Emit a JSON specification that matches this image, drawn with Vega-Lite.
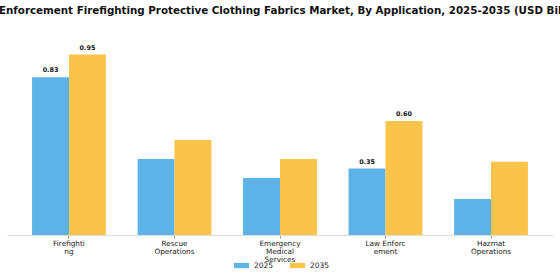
{
  "$schema": "https://vega.github.io/schema/vega-lite/v6.json",
  "autosize": "none",
  "width": 546,
  "height": 190,
  "padding": {"left": 7, "right": 7, "top": 45, "bottom": 45},
  "background": "white",
  "title": {
    "text": "Law Enforcement Firefighting Protective Clothing Fabrics Market, By Application, 2025-2035 (USD Billion)",
    "font": "DejaVu Sans",
    "fontSize": 10.3,
    "fontWeight": "bold",
    "color": "#111111",
    "anchor": "middle",
    "offset": 28
  },
  "data": {
    "values": [
      {"app": "Firefighting", "year": "2025", "value": 0.83},
      {"app": "Firefighting", "year": "2035", "value": 0.95},
      {"app": "Rescue Operations", "year": "2025", "value": 0.40},
      {"app": "Rescue Operations", "year": "2035", "value": 0.50},
      {"app": "Emergency Medical Services", "year": "2025", "value": 0.30},
      {"app": "Emergency Medical Services", "year": "2035", "value": 0.40},
      {"app": "Law Enforcement", "year": "2025", "value": 0.35},
      {"app": "Law Enforcement", "year": "2035", "value": 0.60},
      {"app": "Hazmat Operations", "year": "2025", "value": 0.19},
      {"app": "Hazmat Operations", "year": "2035", "value": 0.385}
    ]
  },
  "encoding": {
    "x": {
      "field": "app",
      "type": "nominal",
      "sort": null,
      "scale": {"paddingInner": 0.3, "paddingOuter": 0.2375},
      "axis": {
        "title": null,
        "labelAngle": 0,
        "labelFont": "DejaVu Sans",
        "labelFontSize": 7.3,
        "labelColor": "#222222",
        "labelLineHeight": 8,
        "labelPadding": 1,
        "tickSize": 3,
        "tickColor": "#999999",
        "domainColor": "#dddddd",
        "labelExpr": "datum.value == 'Firefighting' ? ['Firefighti','ng'] : datum.value == 'Rescue Operations' ? ['Rescue','Operations'] : datum.value == 'Emergency Medical Services' ? ['Emergency','Medical','Services'] : datum.value == 'Law Enforcement' ? ['Law Enforc','ement'] : ['Hazmat','Operations']"
      }
    },
    "xOffset": {"field": "year", "type": "nominal"},
    "y": {
      "field": "value",
      "type": "quantitative",
      "scale": {"domain": [0, 1], "nice": false},
      "axis": null
    }
  },
  "layer": [
    {
      "mark": {"type": "bar"},
      "encoding": {
        "color": {
          "field": "year",
          "type": "nominal",
          "scale": {"domain": ["2025", "2035"], "range": ["#5DB3E6", "#F9C449"]},
          "legend": {
            "title": null,
            "orient": "none",
            "direction": "horizontal",
            "legendX": 227,
            "legendY": 213,
            "symbolType": "M-1,-0.35H1V0.35H-1Z",
            "symbolSize": 225,
            "labelFont": "DejaVu Sans",
            "labelFontSize": 7.5,
            "labelColor": "#222222",
            "labelOffset": 5,
            "columnPadding": 16,
            "symbolStrokeWidth": 0
          }
        }
      }
    },
    {
      "transform": [{"filter": "datum.app == 'Firefighting' || datum.app == 'Law Enforcement'"}],
      "mark": {"type": "text", "dy": -7, "font": "DejaVu Sans", "fontSize": 6.4, "fontWeight": "bold", "color": "#111111"},
      "encoding": {
        "text": {"field": "value", "type": "quantitative", "format": ".2f"}
      }
    }
  ],
  "config": {"view": {"stroke": null}}
}
